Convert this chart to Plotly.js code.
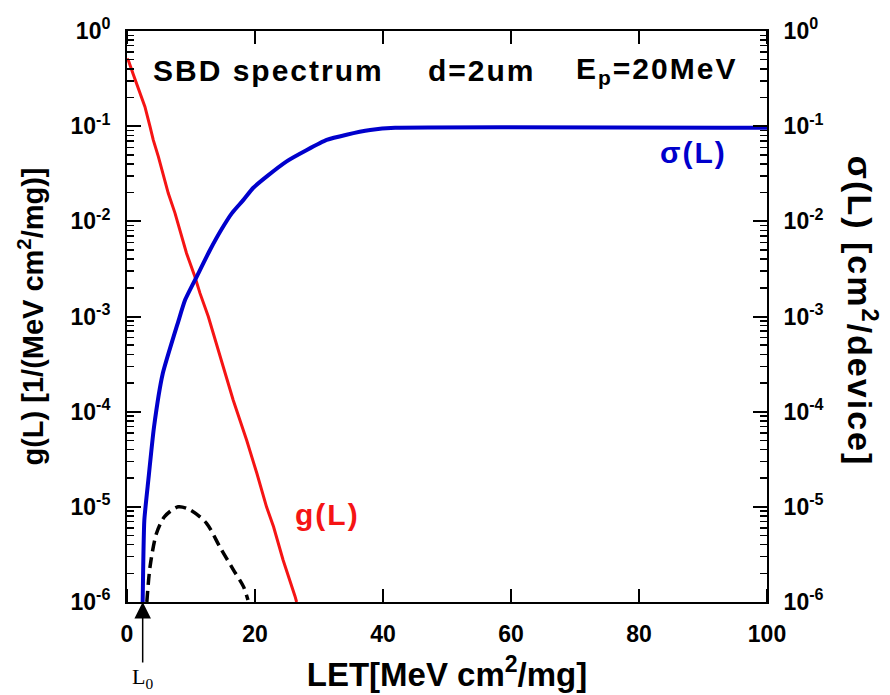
<!DOCTYPE html>
<html>
<head>
<meta charset="utf-8">
<script src="https://cdn.plot.ly/plotly-3.0.1.min.js"></script>
<style>
html,body{margin:0;padding:0;background:#fff;}
#chart{width:890px;height:695px;}
#chart .annotation-text{letter-spacing:2px;}
</style>
</head>
<body>
<div id="chart"></div>
<script>
// g(L) spectrum (red)
const gL_x = [0.0, 0.2, 1.0, 2.03, 2.8, 3.6, 4.1, 4.9, 5.7, 6.45, 7.5, 8.3, 9.3, 10.6, 11.4, 12.7, 14.3, 15.05, 16.6, 18.7, 20.3, 21.8, 22.9, 24.4, 26.25, 26.5];
const gL_y = [5.1e-1, 4.95e-1, 3.47e-1, 2.29e-1, 1.60e-1, 9.89e-2, 7.16e-2, 4.79e-2, 2.95e-2, 1.97e-2, 1.22e-2, 8.13e-3, 4.62e-3, 2.63e-3, 1.76e-3, 1.0e-3, 4.47e-4, 2.95e-4, 1.32e-4, 5.0e-5, 2.24e-5, 1.0e-5, 6.17e-6, 2.75e-6, 1.15e-6, 1.0e-6];

// sigma(L) cross-section (blue)
const sig_x = [2.45, 2.71, 3.33, 4.22, 5.58, 8.02, 9.06, 10.9, 12.97, 14.8, 16.4, 18.2, 19.7, 21.8, 24.95, 28.1, 31.2, 34.3, 38.0, 41.9, 100];
const sig_y = [1.0e-6, 7.24e-6, 1.9e-5, 6.9e-5, 2.5e-4, 8.9e-4, 1.48e-3, 2.63e-3, 5.0e-3, 8.3e-3, 1.22e-2, 1.68e-2, 2.24e-2, 2.95e-2, 4.27e-2, 5.62e-2, 7.16e-2, 8.13e-2, 9.1e-2, 9.6e-2, 9.6e-2];

// product curve (black dashed)
const prod_x = [3.1, 3.6, 4.6, 5.9, 8.0, 9.8, 12.4, 14.5, 16.6, 18.2, 18.9];
const prod_y = [1.0e-6, 2.34e-6, 5.25e-6, 7.94e-6, 1.0e-5, 9.33e-6, 6.76e-6, 3.8e-6, 2.19e-6, 1.45e-6, 1.05e-6];

// ticks
const xTickVals = [0, 20, 40, 60, 80, 100];
const yTickVals = [1e-6, 1e-5, 1e-4, 1e-3, 1e-2, 1e-1, 1];
const yTickText = ['10<sup>-6</sup>', '10<sup>-5</sup>', '10<sup>-4</sup>', '10<sup>-3</sup>', '10<sup>-2</sup>', '10<sup>-1</sup>', '10<sup>0</sup>'];
const yMinorMantissas = [2, 3, 4, 5, 6, 7, 8, 9];
const yDecades = [1e-6, 1e-5, 1e-4, 1e-3, 1e-2, 1e-1];
const L0 = 2.45;

const FONT = 'Liberation Sans, Arial, sans-serif';
const tickFont = {family: FONT, size: 23, color: '#000', weight: 'bold'};
const PLOT_W = 640, PLOT_H = 571;

const traces = [
  {x: gL_x, y: gL_y, mode: 'lines', line: {color: '#f51414', width: 3}, showlegend: false},
  {x: prod_x, y: prod_y, mode: 'lines', line: {color: '#000', width: 3.5, dash: '11px,6px', shape: 'spline', smoothing: 0.8}, showlegend: false},
  {x: sig_x, y: sig_y, mode: 'lines', line: {color: '#0000cc', width: 4, shape: 'spline', smoothing: 0.5}, yaxis: 'y2', showlegend: false}
];

// tick marks drawn as axis-referenced shapes (inside ticks on all four sides)
const shapes = [];
function yTickShapes(vals, len, width) {
  vals.forEach(v => {
    const ly = Math.log10(v);
    shapes.push({type: 'line', layer: 'above', xref: 'paper', yref: 'y', x0: 0, x1: len / PLOT_W, y0: ly, y1: ly, line: {color: '#000', width: width}});
    shapes.push({type: 'line', layer: 'above', xref: 'paper', yref: 'y', x0: 1 - len / PLOT_W, x1: 1, y0: ly, y1: ly, line: {color: '#000', width: width}});
  });
}
yTickShapes(yTickVals, 14, 2);
const yMinorVals = [];
yDecades.forEach(d => yMinorMantissas.forEach(m => yMinorVals.push(m * d)));
yTickShapes(yMinorVals, 7, 1.5);
xTickVals.forEach(v => {
  shapes.push({type: 'line', layer: 'above', xref: 'x', yref: 'paper', x0: v, x1: v, y0: 0, y1: 13 / PLOT_H, line: {color: '#000', width: 2}});
  shapes.push({type: 'line', layer: 'above', xref: 'x', yref: 'paper', x0: v, x1: v, y0: 1 - 13 / PLOT_H, y1: 1, line: {color: '#000', width: 2}});
});

const yCommon = {
  type: 'log', range: [-6, 0], tickmode: 'array', tickvals: yTickVals, ticktext: yTickText,
  ticks: 'inside', ticklen: 14, tickwidth: 2, tickcolor: '#000',
  minor: {ticks: 'inside', ticklen: 7, tickwidth: 1.5, tickcolor: '#000', dtick: 'D1', showgrid: true, gridcolor: 'rgba(0,0,0,0)'},
  showline: true, linewidth: 2, linecolor: '#000', showgrid: true, gridcolor: 'rgba(0,0,0,0)',
  tickfont: tickFont, ticklabelstandoff: 10
};

const layout = {
  width: 890, height: 695,
  margin: {l: 127, r: 123, t: 31, b: 93},
  showlegend: false,
  xaxis: {
    range: [0, 100], tickmode: 'array', tickvals: xTickVals,
    ticks: 'inside', ticklen: 13, tickwidth: 2, tickcolor: '#000',
    showline: true, linewidth: 2, linecolor: '#000', mirror: 'ticks',
    showgrid: true, gridcolor: 'rgba(0,0,0,0)', zerolinecolor: '#000', zerolinewidth: 2,
    tickfont: tickFont, ticklabelstandoff: 10,
    title: {text: 'LET[MeV cm<sup>2</sup>/mg]', font: {family: FONT, size: 33, color: '#000', weight: 'bold'}, standoff: 17}
  },
  yaxis: Object.assign({}, yCommon, {
    side: 'left',
    title: {text: 'g(L) [1/(MeV cm<sup>2</sup>/mg)]', font: {family: FONT, size: 29, color: '#000', weight: 'bold'}, standoff: 18}
  }),
  yaxis2: Object.assign({}, yCommon, {side: 'right', overlaying: 'y'}),
  shapes: shapes,
  annotations: [
    {xref: 'paper', yref: 'paper', x: 0.056, y: 0.931, xanchor: 'left', yanchor: 'middle', showarrow: false,
     text: 'SBD spectrum', font: {family: FONT, size: 30, color: '#000', weight: 'bold'}},
    {xref: 'paper', yref: 'paper', x: 0.475, y: 0.931, xanchor: 'left', yanchor: 'middle', showarrow: false,
     text: 'd=2um', font: {family: FONT, size: 30, color: '#000', weight: 'bold'}},
    {xref: 'paper', yref: 'paper', x: 0.711, y: 0.931, xanchor: 'left', yanchor: 'middle', showarrow: false,
     text: 'E<sub>p</sub>=20MeV', font: {family: FONT, size: 30, color: '#000', weight: 'bold'}},
    {xref: 'paper', yref: 'paper', x: 0.836, y: 0.788, xanchor: 'left', yanchor: 'middle', showarrow: false,
     text: '\u03c3(L)', font: {family: FONT, size: 30, color: '#0000cc', weight: 'bold'}},
    {xref: 'paper', yref: 'paper', x: 0.266, y: 0.154, xanchor: 'left', yanchor: 'middle', showarrow: false,
     text: 'g(L)', font: {family: FONT, size: 30, color: '#f51414', weight: 'bold'}},
    {xref: 'paper', yref: 'paper', x: 1.1484, y: 0.51, xanchor: 'center', yanchor: 'middle', showarrow: false,
     textangle: 90, text: '\u03c3(L) [cm<sup>2</sup>/device]', font: {family: FONT, size: 34, color: '#000', weight: 'bold'}},
    {xref: 'x', yref: 'paper', x: L0, y: 0, ax: 0, ay: 76, showarrow: true, arrowhead: 2, arrowsize: 2.2, arrowwidth: 1.5, arrowcolor: '#000',
     text: 'L<sub>0</sub>', font: {family: 'Liberation Serif, Times New Roman, serif', size: 22, color: '#000'}}
  ]
};

Plotly.newPlot('chart', traces, layout, {displayModeBar: false, staticPlot: true}).then(() => {
  const notes = document.querySelectorAll('#chart .annotation-text');
  if (notes.length) notes[notes.length - 1].style.letterSpacing = '0px';
});
</script>
</body>
</html>
